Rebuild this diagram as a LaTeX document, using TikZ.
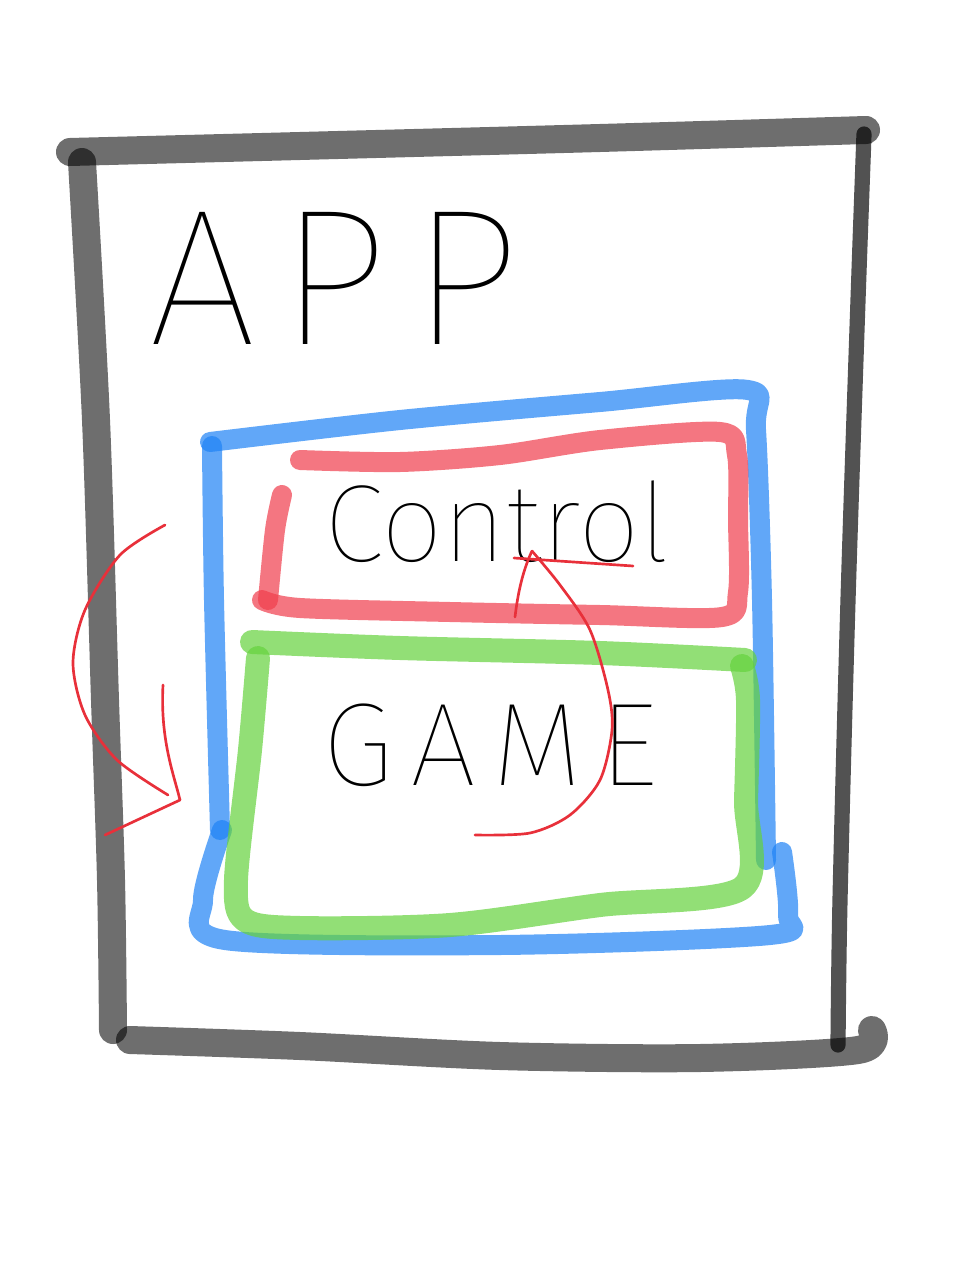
\documentclass[tikz,border=0pt]{standalone}
\usepackage{fontspec}
\usepackage{tikz}
\usetikzlibrary{positioning, calc}
\newfontfamily\handfont{Fira Sans}[UprightFont={* Thin}]
\definecolor{frameColor}{HTML}{000000}
\definecolor{appBlue}{HTML}{1E82F5}
\definecolor{ctrlRed}{HTML}{F03C4B}
\definecolor{gameGreen}{HTML}{64D23C}
\definecolor{penRed}{HTML}{E8303A}

\begin{document}
\begin{tikzpicture}[
  x=0.025cm, y=-0.025cm,
  framestroke/.style={
    draw=frameColor,
    draw opacity=0.57,
    line width=0.7cm,
    line cap=round,
    line join=round
  },
  marker/.style={
    draw=#1,
    draw opacity=0.7,
    line width=0.5cm,
    line cap=round,
    line join=round
  },
  pen/.style={
    draw=penRed,
    line width=1.9pt,
    line cap=round,
    line join=round
  },
  handtext/.style={
    inner sep=0pt,
    text=black
  }
]
  \useasboundingbox (0,0) rectangle (960,1280);

  % Outer app frame
  \draw[framestroke] plot[smooth] coordinates {(70,152) (300,146) (600,138) (866,130)};
  \draw[framestroke] plot[smooth] coordinates {(82,162) (96,420) (105,700) (111,880) (113,1030)};
  \draw[framestroke, line width=0.38cm, draw opacity=0.68]
    plot[smooth] coordinates {(864,134) (858,300) (848,600) (840,900) (838,1045)};
  \draw[framestroke] plot[smooth] coordinates {(130,1040) (300,1046) (500,1056) (700,1058) (858,1050) (872,1030)};

  % Blue box
  \draw[marker=appBlue] plot[smooth] coordinates {(210,442) (400,420) (600,402) (748,390) (756,430) (762,600) (766,860)};
  \draw[marker=appBlue] plot[smooth] coordinates {(212,446) (214,600) (220,830)};
  \draw[marker=appBlue] plot[smooth] coordinates {(222,830) (203,900) (225,940) (500,945) (770,935) (788,915) (782,852)};

  % Red box
  \draw[marker=ctrlRed] plot[smooth] coordinates {(300,460) (400,462) (500,455) (600,440) (720,432) (737,455) (738,520) (738,592) (722,617) (600,615) (450,612) (300,608) (262,600)};
  \draw[marker=ctrlRed] plot[smooth] coordinates {(282,495) (275,530) (268,600)};

  % Green box
  \draw[marker=gameGreen, line width=0.6cm] plot[smooth] coordinates {(252,642) (400,648) (600,653) (745,660)};
  \draw[marker=gameGreen, line width=0.6cm] plot[smooth] coordinates {(258,658) (250,750) (236,880) (245,920) (300,928) (450,925) (600,905) (742,888) (746,800) (748,700) (742,666)};

  % Labels
  \node[handtext, font=\handfont\fontsize{138}{138}\selectfont\addfontfeature{LetterSpace=12}] (app) at (334,278) {APP};
  \node[handtext, font=\handfont\fontsize{78}{78}\selectfont] (control) at (497,522) {Control};
  \node[handtext, font=\handfont\fontsize{84}{84}\selectfont\addfontfeature{LetterSpace=14}] (game) at (490,745) {GAME};

  % Pen arrows
  \coordinate (outerStart) at (165,525);
  \coordinate (outerTip) at (180,800);
  \coordinate (gameStart) at (475,835);
  \coordinate (controlTip) at (532,551);

  \draw[pen] plot[smooth] coordinates {(outerStart) (120,555) (85,610) (73,663) (85,715) (117,760) (168,795)};
  \draw[pen] (163,685) .. controls (160,740) and (174,775) .. (outerTip) -- (105,835);

  \draw[pen] plot[smooth] coordinates {(gameStart) (530,833) (570,815) (600,780) (612,730) (608,690) (590,630) (560,585) (controlTip)};
  \draw[pen] (515,617) .. controls (518,592) and (523,570) .. (controlTip);
  \draw[pen] (514,558) -- (633,566);
\end{tikzpicture}
\end{document}
